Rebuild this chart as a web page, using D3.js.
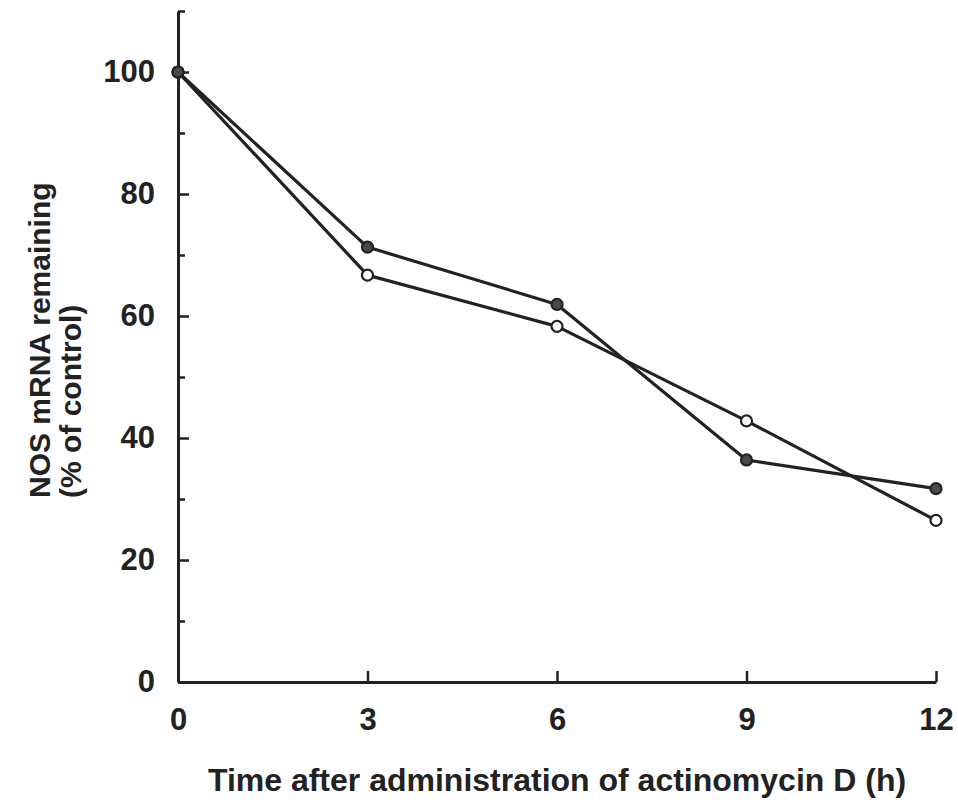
<!DOCTYPE html>
<html>
<head>
<meta charset="utf-8">
<script src="https://cdn.jsdelivr.net/npm/d3@7"></script>
<style>
  body { margin: 0; background: #fff; }
  svg { display: block; }
  text { font-family: "Liberation Sans", Arial, sans-serif; font-weight: bold; fill: #222; }
</style>
</head>
<body>
<div id="graph"></div>
<script>
// hours after actinomycin D
var hours = [0, 3, 6, 9, 12];
// NOS mRNA remaining, % of control
var filledSeries = [100, 71.3, 61.9, 36.4, 31.7];
var openSeries = [100, 66.7, 58.3, 42.8, 26.5];
var yMajorTicks = [0, 20, 40, 60, 80, 100];
var yMinorTicks = [10, 30, 50, 70, 90, 110];
var xTicks = [0, 3, 6, 9, 12];

var width = 958, height = 808;
var ink = "#222";

var svg = d3.select("#graph").append("svg")
    .attr("width", width)
    .attr("height", height);

var x = d3.scaleLinear().domain([0, 12]).range([178, 936]);
var y = d3.scaleLinear().domain([0, 110]).range([682, 11]);

// y axis, ticks pointing into the plot
var yAxis = svg.append("g")
    .attr("transform", "translate(" + x(0) + ",0)")
    .call(d3.axisLeft(y)
	  .tickValues(yMajorTicks)
	  .tickSizeInner(-11)
	  .tickSizeOuter(0)
	  .tickPadding(23));
yAxis.select(".domain").attr("stroke", ink).attr("stroke-width", 3);
yAxis.selectAll(".tick line").attr("stroke", ink).attr("stroke-width", 2.5);
yAxis.selectAll(".tick text")
    .attr("fill", ink)
    .style("font-size", "31px")
    .style("font-family", "'Liberation Sans', Arial, sans-serif")
    .style("font-weight", "bold");

var yMinor = svg.append("g")
    .attr("transform", "translate(" + x(0) + ",0)")
    .call(d3.axisLeft(y)
	  .tickValues(yMinorTicks)
	  .tickSizeInner(-7)
	  .tickSizeOuter(0)
	  .tickFormat(""));
yMinor.select(".domain").remove();
yMinor.selectAll(".tick line").attr("stroke", ink).attr("stroke-width", 2.5);

// x axis
var xAxis = svg.append("g")
    .attr("transform", "translate(0," + y(0) + ")")
    .call(d3.axisBottom(x)
	  .tickValues(xTicks)
	  .tickSizeInner(-11)
	  .tickSizeOuter(0)
	  .tickPadding(26));
xAxis.select(".domain").attr("stroke", ink).attr("stroke-width", 3);
xAxis.selectAll(".tick line").attr("stroke", ink).attr("stroke-width", 2.5);
xAxis.selectAll(".tick text")
    .attr("fill", ink)
    .style("font-size", "31px")
    .style("font-family", "'Liberation Sans', Arial, sans-serif")
    .style("font-weight", "bold");

// axis titles
svg.append("text")
    .attr("x", 557)
    .attr("y", 791)
    .attr("text-anchor", "middle")
    .style("font-size", "32px")
    .text("Time after administration of actinomycin D (h)");

svg.append("text")
    .attr("transform", "translate(50,498) rotate(-90)")
    .attr("text-anchor", "start")
    .style("font-size", "30px")
    .text("NOS mRNA remaining");

svg.append("text")
    .attr("transform", "translate(81,498) rotate(-90)")
    .attr("text-anchor", "start")
    .style("font-size", "30px")
    .text("(% of control)");

// series
var line = d3.line()
    .x(function(d) { return x(d[0]); })
    .y(function(d) { return y(d[1]); });

function drawSeries(values, fill) {
    var pts = hours.map(function(h, i) { return [h, values[i]]; });
    svg.append("path")
	.datum(pts)
	.attr("d", line)
	.attr("fill", "none")
	.attr("stroke", ink)
	.attr("stroke-width", 3.2)
	.attr("stroke-linejoin", "round");
    svg.append("g")
	.selectAll("circle")
	.data(pts)
	.enter()
	.append("circle")
	.attr("cx", function(d) { return x(d[0]); })
	.attr("cy", function(d) { return y(d[1]); })
	.attr("r", 5.5)
	.attr("fill", fill)
	.attr("stroke", ink)
	.attr("stroke-width", 2.2);
}

drawSeries(openSeries, "#fff");
drawSeries(filledSeries, "#4a4a4a");
</script>
</body>
</html>
